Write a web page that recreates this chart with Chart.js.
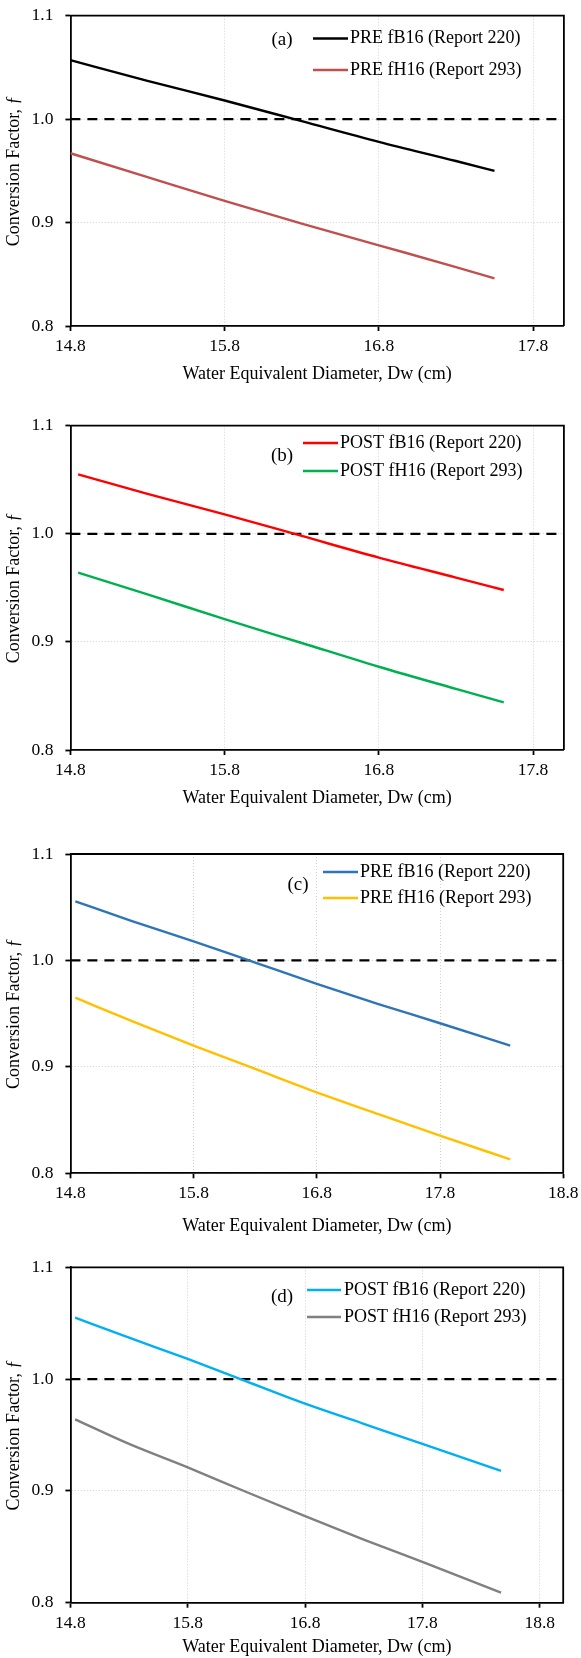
<!DOCTYPE html>
<html>
<head>
<meta charset="utf-8">
<script src="https://cdn.jsdelivr.net/npm/chart.js@4.4.1/dist/chart.umd.min.js"></script>
<style>
  body { margin: 0; background: #fff; width: 581px; height: 1658px; position: relative; overflow: hidden; }
  .panel { position: absolute; left: 0; width: 581px; }
</style>
</head>
<body>
<div class="panel" style="top:0;height:410px"><canvas id="chartA"></canvas></div>
<div class="panel" style="top:410px;height:420px"><canvas id="chartB"></canvas></div>
<div class="panel" style="top:830px;height:410px"><canvas id="chartC"></canvas></div>
<div class="panel" style="top:1240px;height:418px"><canvas id="chartD"></canvas></div>

<script>
// data
const yTicks = [0.8, 0.9, 1.0, 1.1];
const xTicksShort = [14.8, 15.8, 16.8, 17.8];
const xTicksLong = [14.8, 15.8, 16.8, 17.8, 18.8];
const refLine = 1.0;

// (a) PRE, Report 220 / 293
const dwA = [14.8, 15.3, 15.8, 16.3, 16.8, 17.3, 17.55];
const preB16A = [1.057, 1.037, 1.018, 0.998, 0.978, 0.9595, 0.950];
const preH16A = [0.967, 0.944, 0.921, 0.899, 0.878, 0.857, 0.846];

// (b) POST
const dwB = [14.85, 15.3, 15.8, 16.3, 16.8, 17.3, 17.61];
const postB16B = [1.055, 1.037, 1.018, 0.998, 0.978, 0.9595, 0.948];
const postH16B = [0.964, 0.944, 0.921, 0.899, 0.877, 0.8565, 0.844];

// (c) PRE
const dwC = [14.84, 15.3, 15.8, 16.3, 16.8, 17.3, 17.8, 18.37];
const preB16C = [1.0555, 1.037, 1.018, 0.998, 0.978, 0.959, 0.941, 0.920];
const preH16C = [0.965, 0.943, 0.920, 0.898, 0.876, 0.8555, 0.8355, 0.813];

// (d) POST
const dwD = [14.84, 15.3, 15.8, 16.3, 16.8, 17.3, 17.8, 18.47];
const postB16D = [1.055, 1.037, 1.018, 0.998, 0.978, 0.960, 0.942, 0.918];
const postH16D = [0.964, 0.942, 0.921, 0.899, 0.8775, 0.8565, 0.8365, 0.809];

const FONT = '"Liberation Serif", "Times New Roman", serif';

function pts(xs, ys) {
  return xs.map((x, i) => ({ x: x, y: ys[i] }));
}

// legend, panel tag and top/right frame
const panelLegend = {
  id: 'panelLegend',
  afterDatasetsDraw(chart, args, opts) {
    const ctx = chart.ctx;
    const a = chart.chartArea;
    ctx.save();
    ctx.strokeStyle = '#000';
    ctx.lineWidth = 1.8;
    ctx.beginPath();
    ctx.moveTo(a.left, a.top);
    ctx.lineTo(a.right, a.top);
    ctx.lineTo(a.right, a.bottom);
    ctx.stroke();

    ctx.fillStyle = '#000';
    ctx.textBaseline = 'middle';
    ctx.textAlign = 'center';
    ctx.font = '19px ' + FONT;
    ctx.fillText(opts.tag, opts.tagX, opts.tagY);

    ctx.font = '18px ' + FONT;
    ctx.textAlign = 'left';
    opts.rows.forEach((y, i) => {
      const ds = chart.data.datasets[i];
      ctx.strokeStyle = ds.borderColor;
      ctx.lineWidth = 2.5;
      ctx.beginPath();
      ctx.moveTo(opts.lineX1, y);
      ctx.lineTo(opts.lineX2, y);
      ctx.stroke();
      ctx.fillText(ds.label, opts.textX, y);
    });
    ctx.restore();
  }
};

function makePanel(id, p) {
  const datasets = p.series.map(s => ({
    label: s.label,
    data: pts(p.dw, s.values),
    borderColor: s.color,
    borderWidth: 2.4,
    pointRadius: 0,
    cubicInterpolationMode: 'monotone',
    fill: false
  }));
  datasets.push({
    label: 'ref',
    data: [{ x: xTicksShort[0], y: refLine }, { x: p.xMax, y: refLine }],
    borderColor: '#000',
    borderWidth: 2.2,
    borderDash: [10, 7],
    pointRadius: 0
  });

  new Chart(document.getElementById(id), {
    type: 'line',
    data: { datasets: datasets },
    plugins: [panelLegend],
    options: {
      responsive: true,
      maintainAspectRatio: false,
      animation: false,
      events: [],
      layout: { padding: { left: 0, top: p.top, right: p.right, bottom: p.padBottom } },
      plugins: {
        legend: { display: false },
        tooltip: { enabled: false },
        panelLegend: p.legend
      },
      scales: {
        x: {
          type: 'linear',
          min: 14.8,
          max: p.xMax,
          afterBuildTicks: s => { s.ticks = p.xTicks.map(v => ({ value: v })); },
          afterFit: s => {
            s.height = p.xHeight;
            s.paddingLeft = 0; s.paddingRight = 0; s.paddingTop = 0; s.paddingBottom = 0;
          },
          grid: { color: '#d0d0d0', lineWidth: 1, tickColor: '#000', tickLength: 5, tickWidth: 1.8 },
          border: { color: '#000', width: 1.8, dash: [1, 2] },
          ticks: {
            color: '#000',
            font: { family: FONT, size: 17.5 },
            padding: 5,
            maxRotation: 0,
            callback: v => v.toFixed(1)
          },
          title: {
            display: true,
            text: 'Water Equivalent Diameter, Dw (cm)',
            color: '#000',
            font: { family: FONT, size: 18 },
            padding: { top: 0, bottom: 0 }
          }
        },
        y: {
          type: 'linear',
          min: 0.8,
          max: 1.1,
          afterBuildTicks: s => { s.ticks = yTicks.map(v => ({ value: v })); },
          afterFit: s => {
            s.width = 70.4;
            s.paddingLeft = 0; s.paddingRight = 0; s.paddingTop = 0; s.paddingBottom = 0;
          },
          grid: { color: '#d0d0d0', lineWidth: 1, tickColor: '#000', tickLength: 5, tickWidth: 1.8 },
          border: { color: '#000', width: 1.8, dash: [1, 2] },
          ticks: {
            color: '#000',
            font: { family: FONT, size: 17.5 },
            padding: 12,
            callback: v => v.toFixed(1)
          },
          title: {
            display: true,
            text: 'Conversion Factor, ƒ',
            color: '#000',
            font: { family: FONT, size: 18 },
            padding: { top: 3, bottom: 0 }
          }
        }
      }
    }
  });
}

makePanel('chartA', {
  dw: dwA, xMax: 18.0, xTicks: xTicksShort,
  top: 15.7, right: 17.1, xHeight: 59.5, padBottom: 24.5,
  series: [
    { label: 'PRE fB16 (Report 220)', values: preB16A, color: '#000000' },
    { label: 'PRE fH16 (Report 293)', values: preH16A, color: '#C0504D' }
  ],
  legend: { tag: '(a)', tagX: 282, tagY: 40, lineX1: 313, lineX2: 348, textX: 350, rows: [38.5, 70] }
});

makePanel('chartB', {
  dw: dwB, xMax: 18.0, xTicks: xTicksShort,
  top: 15.7, right: 17.1, xHeight: 59.1, padBottom: 20.9,
  series: [
    { label: 'POST fB16 (Report 220)', values: postB16B, color: '#FF0000' },
    { label: 'POST fH16 (Report 293)', values: postH16B, color: '#00B050' }
  ],
  legend: { tag: '(b)', tagX: 282, tagY: 46, lineX1: 303, lineX2: 338, textX: 340, rows: [33, 61] }
});

makePanel('chartC', {
  dw: dwC, xMax: 18.8, xTicks: xTicksLong,
  top: 24, right: 17.8, xHeight: 64, padBottom: 2.7,
  series: [
    { label: 'PRE fB16 (Report 220)', values: preB16C, color: '#2E75B6' },
    { label: 'PRE fH16 (Report 293)', values: preH16C, color: '#FFC000' }
  ],
  legend: { tag: '(c)', tagX: 298, tagY: 55, lineX1: 323, lineX2: 358, textX: 360, rows: [42, 68] }
});

makePanel('chartD', {
  dw: dwD, xMax: 19.0, xTicks: xTicksLong,
  top: 27.3, right: 17.8, xHeight: 55.3, padBottom: 0,
  series: [
    { label: 'POST fB16 (Report 220)', values: postB16D, color: '#00B0F0' },
    { label: 'POST fH16 (Report 293)', values: postH16D, color: '#808080' }
  ],
  legend: { tag: '(d)', tagX: 282, tagY: 57, lineX1: 307, lineX2: 341, textX: 344, rows: [50, 77] }
});
</script>
</body>
</html>
